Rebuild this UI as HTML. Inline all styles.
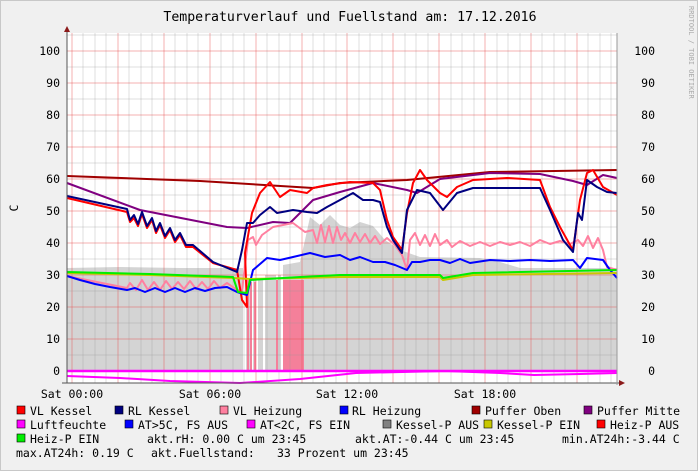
<!DOCTYPE html>
<html><head><meta charset="utf-8"><style>
body{margin:0;background:#f0f0f0;}
svg{display:block;font-family:"DejaVu Sans Mono","Liberation Mono",monospace;}
</style></head><body>
<svg width="698" height="471" viewBox="0 0 698 471" xmlns="http://www.w3.org/2000/svg">
<rect x="0" y="0" width="698" height="471" fill="#f0f0f0"/>
<rect x="0.5" y="0.5" width="697" height="470" fill="none" stroke="#c8c8c8"/>
<text x="350" y="21" font-size="13.2" text-anchor="middle" fill="#000">Temperaturverlauf und Fuellstand am: 17.12.2016</text>
<text x="689" y="6" font-size="7" fill="#aaa" transform="rotate(90 689 6)">RRDTOOL / TOBI OETIKER</text>
<rect x="67" y="33" width="550" height="350" fill="#fff"/>
<polygon fill="#d4d4d4" points="67,371 67,268 120,267 180,268 230,268 243,268 243,371 246,371 246,280 251,280 251,371 253,371 253,280 256,280 256,371 258,371 258,280 263,280 263,371 265,371 265,275 276,275 276,371 278,371 278,275 281,275 281,371 283,371 283,265 300,262 305,240 310,217 320,225 330,215 340,225 350,228 360,222 373,226 385,240 400,250 420,257 480,258 500,262 520,268 617,268 617,371"/>
<g fill="#f4809a">
<rect x="247" y="280" width="2" height="91"/><rect x="250" y="282" width="2" height="89"/><rect x="254" y="282" width="2" height="89"/><rect x="276" y="280" width="2" height="91"/><rect x="283" y="280" width="21" height="91"/>
</g>
<g id="grid" stroke-width="1" shape-rendering="crispEdges"></g>
<g fill="none" stroke-width="2" stroke-linejoin="round">
<polyline stroke="#a00000" points="67,176 200,181 313,188 340,183 407,180 490,172 617,170"/>
<polyline stroke="#800080" points="67,183 140,210 227,227 247,228 273,222 290,223 313,200 340,192 373,183 407,190 417,193 440,179 490,173 540,174 573,181 587,185 603,175 617,178"/>
<polyline stroke="#ff80a0" points="67,276 127,288 130,283 136,290 142,280 148,290 154,282 160,290 166,281 172,289 178,282 184,289 190,281 196,289 202,282 208,289 214,281 220,288 227,283 237,290 242,291 248,240 253,237 256,245 262,235 273,227 293,223 305,232 313,230 317,243 321,225 325,242 329,226 333,243 337,227 341,240 345,233 350,243 355,233 360,242 365,234 370,243 375,236 380,244 387,238 395,245 402,255 407,270 410,240 415,233 420,245 425,235 430,246 435,234 440,245 447,240 452,247 460,241 470,246 480,242 490,246 500,242 510,245 520,242 530,246 540,240 550,244 560,241 570,244 578,240 583,246 588,236 593,248 598,238 603,250 607,267 617,270"/>
<polyline stroke="#ff0000" points="67,198 127,212 130,222 134,218 138,226 142,214 147,228 152,220 156,233 160,225 165,238 170,230 175,242 180,235 186,247 193,247 213,263 237,270 242,300 247,307 245,253 252,213 260,193 270,182 280,197 290,190 307,193 313,188 327,185 350,182 373,183 380,190 387,220 393,237 402,250 407,213 413,183 420,170 427,180 440,193 447,197 457,187 473,180 507,178 540,180 550,207 560,227 570,245 573,250 580,200 587,173 593,170 603,187 617,195"/>
<polyline stroke="#000080" points="67,196 127,209 130,220 134,215 138,224 142,212 147,226 152,218 156,231 160,223 165,236 170,228 175,240 180,233 186,245 193,245 213,262 237,272 242,250 247,223 253,223 260,215 270,207 277,213 293,210 307,212 317,213 327,207 340,200 353,193 363,200 373,200 380,202 387,227 393,240 402,253 407,210 417,190 430,193 443,210 457,193 473,188 507,188 540,188 550,210 563,240 573,252 578,213 582,220 587,180 597,187 607,192 617,193"/>
<polyline stroke="#0000ff" points="67,276 80,280 95,284 110,287 127,290 135,288 145,292 155,288 165,292 175,288 185,292 195,288 205,291 215,288 227,287 237,292 247,295 253,270 267,258 280,260 293,257 310,253 325,257 340,255 350,260 360,257 373,262 385,262 395,265 407,270 412,262 420,262 430,260 440,260 450,263 460,259 470,263 490,260 510,261 530,260 550,261 573,260 580,268 587,258 603,260 610,270 617,278"/>
<polyline stroke="#c8c800" points="67,273 150,275 233,278 250,279 300,278 340,277 440,277 443,280 473,275 617,273"/>
<polyline stroke="#00ee00" points="67,272 150,274 233,277 238,292 247,293 250,280 300,277 340,275 440,275 443,278 473,273 617,270"/>
<polyline stroke="#ff00ff" points="67,376 120,378 170,381 240,383 300,379 356,373 445,371 500,373 534,375 580,374 617,373"/>
<line x1="67" y1="371" x2="617" y2="371" stroke="#ff00ff" stroke-width="2.5"/>
</g>
<line x1="67" y1="383" x2="67" y2="30" stroke="#555"/>
<polygon points="64,32 70,32 67,26" fill="#8b1a1a"/>
<line x1="62" y1="383" x2="620" y2="383" stroke="#555"/>
<polygon points="619,380 619,386 625,383" fill="#8b1a1a"/>
<line x1="617" y1="33" x2="617" y2="385" stroke="#999"/>
<g id="labels" font-size="11.5" fill="#000"></g>
<text x="18" y="208" font-size="11.5" transform="rotate(-90 18 208)" text-anchor="middle">C</text>
<g font-size="11.5" fill="#000">
<text x="72" y="398" text-anchor="middle">Sat 00:00</text>
<text x="210" y="398" text-anchor="middle">Sat 06:00</text>
<text x="347" y="398" text-anchor="middle">Sat 12:00</text>
<text x="485" y="398" text-anchor="middle">Sat 18:00</text>
</g>
<g font-size="11.5" fill="#000" stroke="#000" stroke-width="0.6">
<rect x="17" y="406" width="8" height="8" fill="#ff0000"/>
<rect x="115" y="406" width="8" height="8" fill="#000080"/>
<rect x="220" y="406" width="8" height="8" fill="#ff80a0"/>
<rect x="340" y="406" width="8" height="8" fill="#0000ff"/>
<rect x="472" y="406" width="8" height="8" fill="#a00000"/>
<rect x="584" y="406" width="8" height="8" fill="#800080"/>
<rect x="17" y="420" width="8" height="8" fill="#ff00ff"/>
<rect x="125" y="420" width="8" height="8" fill="#0000ff"/>
<rect x="247" y="420" width="8" height="8" fill="#ff00ff"/>
<rect x="383" y="420" width="8" height="8" fill="#808080"/>
<rect x="484" y="420" width="8" height="8" fill="#c8c800"/>
<rect x="597" y="420" width="8" height="8" fill="#ff0000"/>
<rect x="17" y="434" width="8" height="8" fill="#00ee00"/>
</g>
<g font-size="11.5" fill="#000" xml:space="preserve">
<text x="30" y="415">VL Kessel</text><text x="128" y="415">RL Kessel</text><text x="233" y="415">VL Heizung</text><text x="352" y="415">RL Heizung</text><text x="485" y="415">Puffer Oben</text><text x="597" y="415">Puffer Mitte</text>
<text x="30" y="429">Luftfeuchte</text><text x="138" y="429">AT&gt;5C, FS AUS</text><text x="260" y="429">AT&lt;2C, FS EIN</text><text x="396" y="429">Kessel-P AUS</text><text x="497" y="429">Kessel-P EIN</text><text x="610" y="429">Heiz-P AUS</text>
<text x="30" y="443">Heiz-P EIN</text><text x="147" y="443">akt.rH: 0.00 C um 23:45</text><text x="355" y="443">akt.AT:-0.44 C um 23:45</text><text x="562" y="443">min.AT24h:-3.44 C</text>
<text x="16" y="457">max.AT24h: 0.19 C</text><text x="151" y="457">akt.Fuellstand:</text><text x="277" y="457">33 Prozent um 23:45</text>
</g>
<script>
(function(){
var ns="http://www.w3.org/2000/svg",g=document.getElementById('grid'),L=document.getElementById('labels');
function ln(x1,y1,x2,y2,c){var l=document.createElementNS(ns,'line');l.setAttribute('x1',x1);l.setAttribute('y1',y1);l.setAttribute('x2',x2);l.setAttribute('y2',y2);l.setAttribute('stroke',c);g.appendChild(l);}
for(var i=-1;i<=48;i++){var x=Math.round(72+i*11.475);if(x<=67||x>=617)continue;ln(x,33,x,383,(i%4==0)?'rgba(230,80,80,0.45)':'rgba(150,150,150,0.3)');}
for(var v=0;v<=105;v+=5){var y=Math.round(371-3.2*v);ln(67,y,617,y,(v%10==0)?'rgba(230,80,80,0.45)':'rgba(150,150,150,0.3)');}
for(var v=0;v<=100;v+=10){var y=371-3.2*v+4;
var t=document.createElementNS(ns,'text');t.setAttribute('x',60);t.setAttribute('y',y);t.setAttribute('text-anchor','end');t.textContent=v;L.appendChild(t);
var t2=document.createElementNS(ns,'text');t2.setAttribute('x',655);t2.setAttribute('y',y);t2.setAttribute('text-anchor','end');t2.textContent=v;L.appendChild(t2);}
})();
</script>
</svg>
</body></html>
